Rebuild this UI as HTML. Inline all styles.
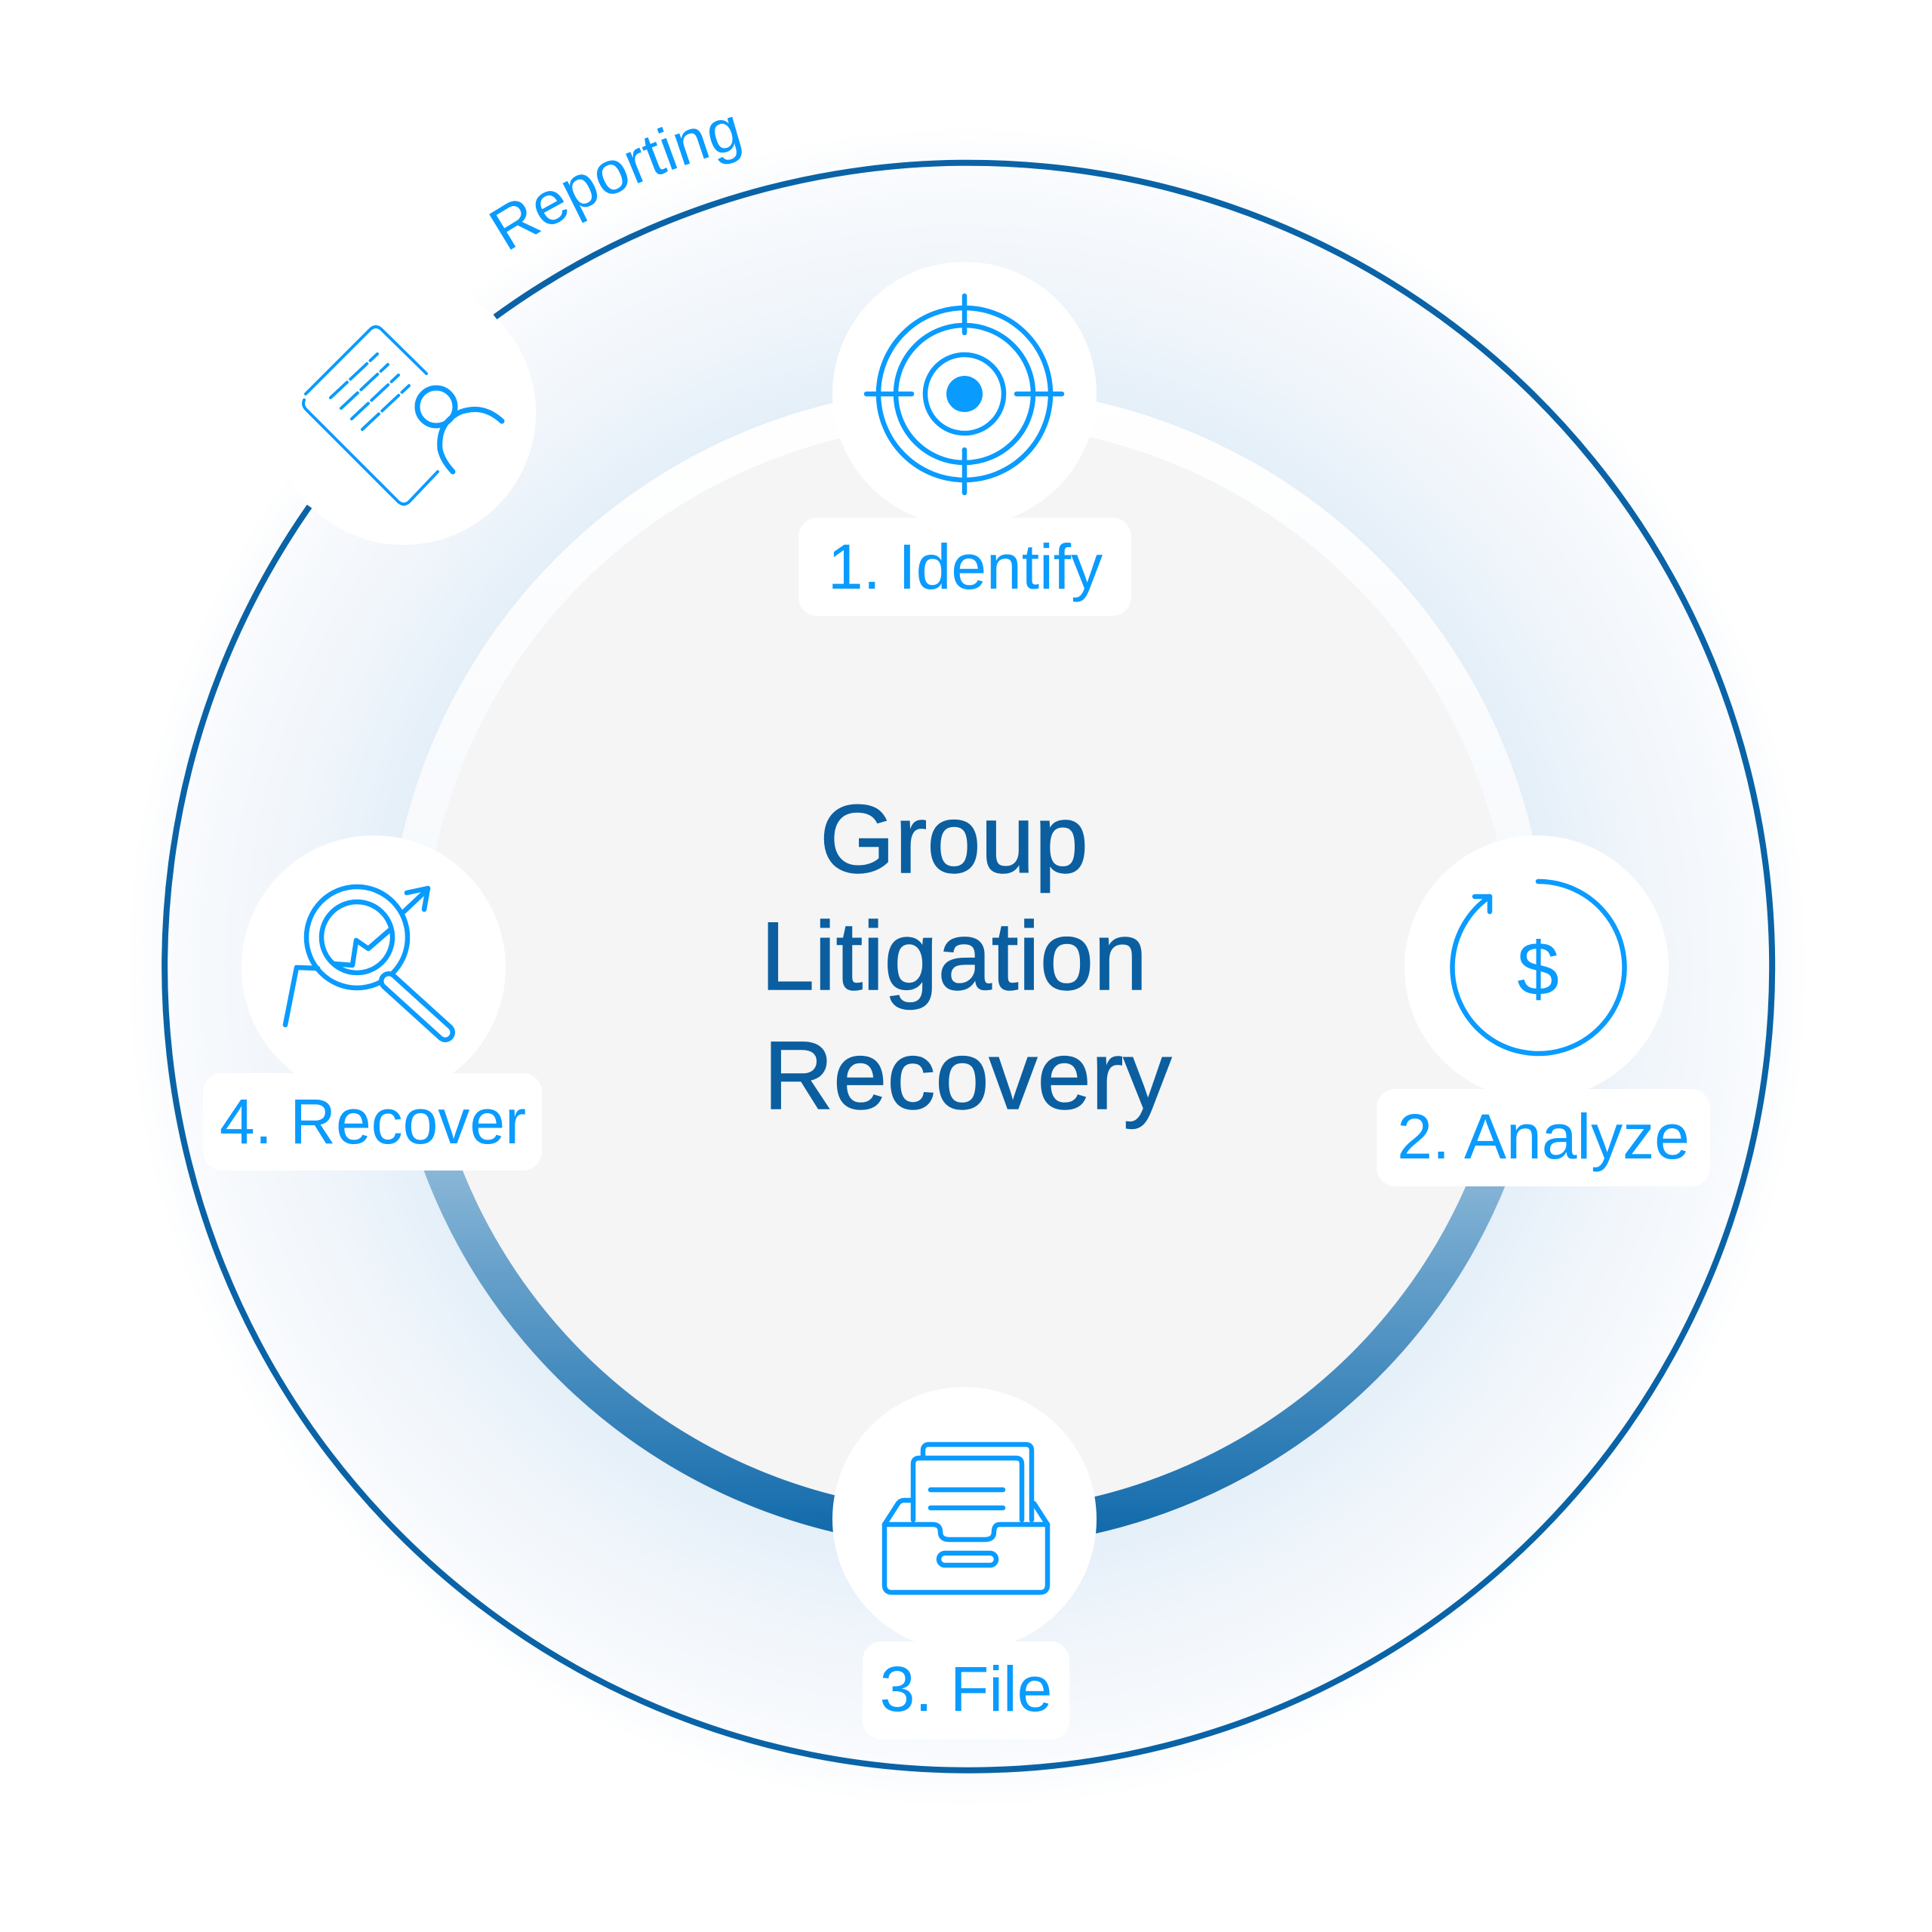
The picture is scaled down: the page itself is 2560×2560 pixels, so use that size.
<!DOCTYPE html>
<html><head><meta charset="utf-8"><style>
html,body{margin:0;padding:0;background:#fff;}
svg{display:block;}
</style></head><body>
<svg width="2560" height="2560" viewBox="0 0 2560 2560" xmlns="http://www.w3.org/2000/svg">
<defs>
<radialGradient id="glow" cx="1282" cy="1282" r="1120" gradientUnits="userSpaceOnUse">
<stop offset="0.6" stop-color="#dbe9f5"/>
<stop offset="0.7" stop-color="#e6f0f9"/>
<stop offset="0.82" stop-color="#f1f6fb"/>
<stop offset="0.93" stop-color="#f8fafd"/>
<stop offset="1" stop-color="#ffffff"/>
</radialGradient>
<linearGradient id="ring" x1="0" y1="500" x2="0" y2="2060" gradientUnits="userSpaceOnUse">
<stop offset="0" stop-color="#ffffff"/>
<stop offset="0.45" stop-color="#f6f9fc"/>
<stop offset="0.6" stop-color="#a9c9e2"/>
<stop offset="0.75" stop-color="#6aa3cc"/>
<stop offset="1" stop-color="#0b66a8"/>
</linearGradient>
</defs>
<rect width="2560" height="2560" fill="#fff"/>
<circle cx="1282" cy="1282" r="1110" fill="url(#glow)"/>
<circle cx="1282" cy="1282" r="745" fill="none" stroke="url(#ring)" stroke-width="48"/>
<circle cx="1282" cy="1282" r="721" fill="#f5f5f5"/>
<path d="M 656 420 A 1065 1065 0 1 1 410 671" fill="none" stroke="#0a63a6" stroke-width="8"/>
<path id="rp" d="M 485 485 A 1127 1127 0 0 1 1282 155" fill="none"/>
<text font-family="Liberation Sans, sans-serif" font-size="80" fill="#0a9bff"><textPath href="#rp" startOffset="240">Reporting</textPath></text>

<g fill="#fff">
<circle cx="1278" cy="522" r="175"/>
<circle cx="2036" cy="1282" r="175"/>
<circle cx="1278" cy="2013" r="175"/>
<circle cx="495" cy="1282" r="175"/>
<circle cx="535" cy="547" r="175"/>
<rect x="1058" y="686" width="441" height="130" rx="25"/>
<rect x="1824" y="1443" width="442" height="129" rx="25"/>
<rect x="1143" y="2175" width="274" height="130" rx="25"/>
<rect x="269" y="1422" width="449" height="129" rx="25"/>
</g>

<g font-family="Liberation Sans, sans-serif" font-size="84" fill="#0a9bff" text-anchor="middle">
<text x="1279" y="780">1.  Identify</text>
<text x="2045" y="1535">2. Analyze</text>
<text x="1280" y="2267">3. File</text>
<text x="494" y="1515">4. Recover</text>
</g>

<g font-family="Liberation Sans, sans-serif" font-size="128" fill="#0b5fa0" text-anchor="middle" stroke="#0b5fa0" stroke-width="1.5">
<text x="1264" y="1156">Group</text>
<text x="1264" y="1311">Litigation</text>
<text x="1282" y="1469">Recovery</text>
</g>

<g fill="none" stroke="#0a9bff" stroke-width="6.5" stroke-linecap="round" stroke-linejoin="round">
<circle cx="1278" cy="522" r="114"/>
<circle cx="1278" cy="522" r="91"/>
<circle cx="1278" cy="522" r="52"/>
<line x1="1278" y1="392" x2="1278" y2="441"/>
<line x1="1278" y1="596" x2="1278" y2="653"/>
<line x1="1148" y1="522" x2="1208" y2="522"/>
<line x1="1347" y1="522" x2="1407" y2="522"/>
<path d="M 2038 1168 A 114 114 0 1 1 1974 1188"/>
<path d="M 1954 1188 L 1974 1188 L 1974 1208"/>
<path d="M 1172 2020 L 1172 2100 Q 1172 2110 1182 2110 L 1378 2110 Q 1388 2110 1388 2100 L 1388 2020 L 1325 2020 Q 1317 2020 1317 2030 Q 1317 2040 1305 2040 L 1258 2040 Q 1246 2040 1246 2030 Q 1246 2020 1236 2020 Z"/>
<path d="M 1172 2020 L 1190 1992 Q 1193 1988 1198 1988 L 1210 1988"/>
<path d="M 1388 2020 L 1370 1992"/>
<path d="M 1210 2014 L 1210 1940 Q 1210 1932 1218 1932 L 1346 1932 Q 1354 1932 1354 1940 L 1354 2014"/>
<path d="M 1223 1932 L 1223 1922 Q 1223 1914 1231 1914 L 1359 1914 Q 1367 1914 1367 1922 L 1367 2014"/>
<line x1="1233" y1="1974" x2="1329" y2="1974"/>
<line x1="1233" y1="1998" x2="1329" y2="1998"/>
<rect x="1244" y="2058" width="76" height="16" rx="8"/>
<circle cx="473" cy="1242" r="67"/>
<circle cx="473" cy="1242" r="47"/>
<path d="M 378 1358 L 393 1282 L 421 1283"/>
<path d="M 442 1277 L 467 1279 L 472 1246 L 488 1257 L 518 1231"/>
<path d="M 533 1210 L 567 1178"/>
<path d="M 539 1183 L 567 1177 L 562 1205"/>
</g>
<line x1="515" y1="1300" x2="590" y2="1368" stroke="#0a9bff" stroke-width="26" stroke-linecap="round"/>
<line x1="515" y1="1300" x2="590" y2="1368" stroke="#fff" stroke-width="13" stroke-linecap="round"/>
<circle cx="1278" cy="522" r="24" fill="#0a9bff"/>
<text x="2038" y="1318" font-family="Liberation Sans, sans-serif" font-size="100" fill="#0a9bff" text-anchor="middle">$</text>

<g fill="none" stroke="#0a9bff" stroke-width="4" stroke-linecap="round" stroke-linejoin="round">
<path d="M 565 495 L 505 436 Q 498 430 491 436 L 405 522 M 403 530 Q 400 537 406 543 L 528 665 Q 535 671 542 665 L 580 625"/>
<line x1="438" y1="527" x2="500" y2="469" stroke-dasharray="30 6"/>
<line x1="452" y1="541" x2="514" y2="483" stroke-dasharray="30 6"/>
<line x1="466" y1="555" x2="528" y2="497" stroke-dasharray="30 6"/>
<line x1="480" y1="569" x2="542" y2="511" stroke-dasharray="30 6"/>
</g>
<g fill="none" stroke="#0a9bff" stroke-width="7" stroke-linecap="round">
<circle cx="578" cy="539" r="25"/>
<path d="M 665 558 Q 640 535 610 546 Q 580 560 583 595 Q 586 610 600 625"/>
</g>
</svg>
</body></html>
